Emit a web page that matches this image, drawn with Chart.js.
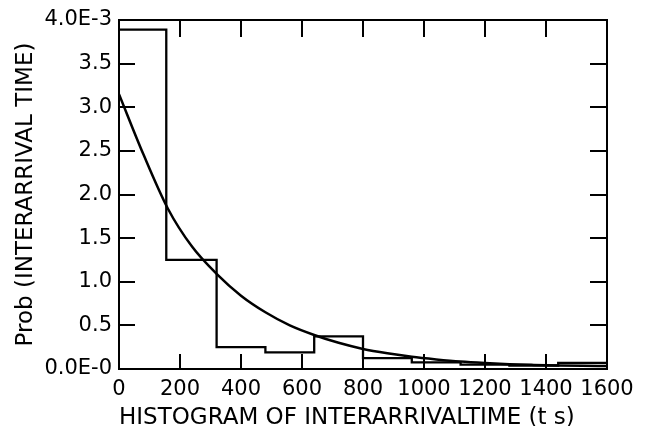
<!DOCTYPE html>
<html>
<head>
<meta charset="utf-8">
<script src="https://cdn.jsdelivr.net/npm/chart.js@4.4.1/dist/chart.umd.min.js"></script>
<style>
  html, body { margin: 0; padding: 0; background: #fff; }
  #wrap { width: 650px; height: 426px; position: relative; }
</style>
</head>
<body>
<div id="wrap"><canvas id="histChart"></canvas></div>
<script>
// ========== DATA ==========
// histogram bins (left edges, seconds) and their heights (probability per second)
const binEdges = [0, 155, 320, 480, 640, 800, 960, 1120, 1280, 1440, 1600];
const binHeights = [3.89e-3, 1.25e-3, 0.25e-3, 0.19e-3, 0.375e-3, 0.125e-3, 0.075e-3, 0.05e-3, 0.04e-3, 0.07e-3];

// fitted curve
const curveT = [0, 80, 160, 240, 320, 400, 480, 560, 640, 720, 800, 880, 960, 1040, 1120, 1200, 1280, 1360, 1440, 1520, 1600];
const curveP = [3.15e-3, 2.46e-3, 1.84e-3, 1.40e-3, 1.09e-3, 0.84e-3, 0.65e-3, 0.50e-3, 0.39e-3, 0.30e-3, 0.23e-3,
                0.18e-3, 0.14e-3, 0.11e-3, 0.085e-3, 0.068e-3, 0.055e-3, 0.047e-3, 0.041e-3, 0.037e-3, 0.034e-3];

// tick labels
const xTickLabels = ["0", "200", "400", "600", "800", "1000", "1200", "1400", "1600"];
const yTickLabels = ["0.0E-0", "0.5", "1.0", "1.5", "2.0", "2.5", "3.0", "3.5", "4.0E-3"];

const xTitle = "HISTOGRAM OF INTERARRIVALTIME (t s)";
const yTitle = "Prob (INTERARRIVAL TIME)";

// ========== BUILD POINTS ==========
// one point at each bin's left edge with its height, plus the closing edge
const histPoints = binHeights.map((h, i) => ({ x: binEdges[i], y: h }));
histPoints.push({ x: binEdges[binEdges.length - 1], y: binHeights[binHeights.length - 1] });

const curvePoints = curveT.map((t, i) => ({ x: t, y: curveP[i] }));

// box frame with inward ticks on all four sides
const frameTicks = {
    id: "frameTicks",
    afterDatasetsDraw(chart) {
        const { ctx, chartArea: a, scales: { x, y } } = chart;
        ctx.save();
        ctx.strokeStyle = "#000";
        ctx.lineWidth = 2;
        ctx.strokeRect(a.left, a.top, a.right - a.left, a.bottom - a.top);
        ctx.beginPath();
        x.ticks.forEach(t => {
            const px = Math.round(x.getPixelForValue(t.value));
            if (px <= a.left + 2 || px >= a.right - 2) return;
            ctx.moveTo(px, a.bottom); ctx.lineTo(px, a.bottom - 15);
            ctx.moveTo(px, a.top); ctx.lineTo(px, a.top + 17);
        });
        y.ticks.forEach(t => {
            const py = Math.round(y.getPixelForValue(t.value));
            if (py <= a.top + 2 || py >= a.bottom - 2) return;
            ctx.moveTo(a.left, py); ctx.lineTo(a.left + 16, py);
            ctx.moveTo(a.right, py); ctx.lineTo(a.right - 17, py);
        });
        ctx.stroke();
        ctx.restore();
    }
};

const tickFont = { family: "DejaVu Sans", size: 21 };
const titleFont = { family: "DejaVu Sans", size: 23, lineHeight: 1 };

new Chart(document.getElementById("histChart").getContext("2d"), {
    type: "line",
    data: {
        datasets: [
            {
                label: "histogram",
                data: histPoints,
                stepped: "before",
                borderColor: "#000",
                borderWidth: 2.3,
                pointRadius: 0,
                fill: false
            },
            {
                label: "fit",
                data: curvePoints,
                cubicInterpolationMode: "monotone",
                borderColor: "#000",
                borderWidth: 2.5,
                pointRadius: 0,
                fill: false
            }
        ]
    },
    options: {
        responsive: true,
        maintainAspectRatio: false,
        animation: false,
        devicePixelRatio: 1,
        layout: { padding: { top: 20, right: 43, bottom: 0, left: 0 } },
        plugins: { legend: { display: false }, tooltip: { enabled: false } },
        scales: {
            x: {
                type: "linear",
                min: 0,
                max: 1600,
                grid: { display: false, drawTicks: false },
                border: { display: false },
                ticks: {
                    stepSize: 200,
                    color: "#000",
                    font: tickFont,
                    padding: 8,
                    maxRotation: 0,
                    callback: (v, i) => xTickLabels[i]
                },
                title: {
                    display: true, text: xTitle, color: "#000", font: titleFont,
                    align: "start", padding: { top: 0, bottom: -4 }
                },
                afterFit: s => { s.height = 57; }
            },
            y: {
                min: 0,
                max: 4.0e-3,
                grid: { display: false, drawTicks: false },
                border: { display: false },
                ticks: {
                    stepSize: 0.5e-3,
                    color: "#000",
                    font: tickFont,
                    padding: 7,
                    callback: (v, i) => yTickLabels[i]
                },
                title: { display: true, text: yTitle, color: "#000", font: titleFont, padding: { top: 15, bottom: 0 } },
                afterFit: s => { s.width = 119; }
            }
        }
    },
    plugins: [frameTicks]
});
</script>
</body>
</html>
